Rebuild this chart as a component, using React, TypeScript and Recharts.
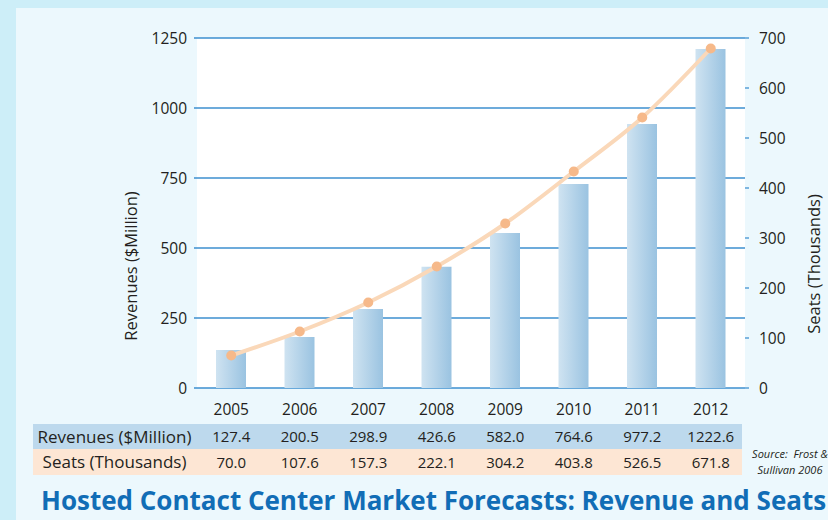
import React from "react";
import { ComposedChart, Bar, Line, XAxis, YAxis, CartesianGrid } from "recharts";

// Category labels
const years = ["2005", "2006", "2007", "2008", "2009", "2010", "2011", "2012"];
// Bar heights as drawn in the picture (Revenues, $Million)
const revenueBars = [136, 182, 282, 433, 554, 729, 943, 1211];
// Line points as drawn in the picture (Seats, Thousands)
const seatPoints = [65, 113, 171, 243, 329, 433, 541, 679];
// Values printed in the table below the chart
const revenueTable = ["127.4", "200.5", "298.9", "426.6", "582.0", "764.6", "977.2", "1222.6"];
const seatTable = ["70.0", "107.6", "157.3", "222.1", "304.2", "403.8", "526.5", "671.8"];
const leftTicks = [0, 250, 500, 750, 1000, 1250];
const rightTicks = [0, 100, 200, 300, 400, 500, 600, 700];

const data = years.map((y, i) => ({ year: y, revenue: revenueBars[i], seats: seatPoints[i] }));

const FONT = "'Open Sans', 'Noto Sans', sans-serif";
const TXT = "#231f20";

const TableTick = (props: any) => {
  const { x, y, payload } = props;
  const i = payload.index;
  return (
    <g fontFamily={FONT} textAnchor="middle">
      <text x={x} y={y + 27} fill={TXT} fontSize={15.5}>{payload.value}</text>
      <text x={x} y={y + 54} fill={TXT} fontSize={15}>{revenueTable[i]}</text>
      <text x={x} y={y + 80} fill={TXT} fontSize={15}>{seatTable[i]}</text>
    </g>
  );
};

export default function App() {
  return (
    <div style={{ position: "absolute", left: 0, top: 0, width: 828, height: 520, background: "#cdeef8", overflow: "hidden", fontFamily: FONT }}>
      <div style={{ position: "absolute", left: 16, top: 8, width: 812, height: 512, background: "#ecf8fd" }} />
      <div style={{ position: "absolute", left: 33, top: 424, width: 709, height: 25, background: "#bdd9ed" }} />
      <div style={{ position: "absolute", left: 33, top: 449, width: 709, height: 26, background: "#fde6d4" }} />
      <div style={{ position: "absolute", left: 30, top: 424, width: 169, height: 25, lineHeight: "25px", textAlign: "center", fontSize: 17, color: TXT, whiteSpace: "nowrap" }}>Revenues ($Million)</div>
      <div style={{ position: "absolute", left: 30, top: 449, width: 169, height: 26, lineHeight: "26px", textAlign: "center", fontSize: 17, color: TXT, whiteSpace: "nowrap" }}>Seats (Thousands)</div>
      <div style={{ position: "absolute", left: 131 - 100, top: 266 - 12, width: 200, height: 24, lineHeight: "24px", textAlign: "center", fontSize: 16.5, color: TXT, transform: "rotate(-90deg)", whiteSpace: "nowrap" }}>Revenues ($Million)</div>
      <div style={{ position: "absolute", left: 814 - 100, top: 264 - 12, width: 200, height: 24, lineHeight: "24px", textAlign: "center", fontSize: 16.5, color: TXT, transform: "rotate(-90deg)", whiteSpace: "nowrap" }}>Seats (Thousands)</div>
      <div style={{ position: "absolute", left: 725, top: 446, width: 130, textAlign: "center", fontSize: 11, fontStyle: "italic", color: TXT, lineHeight: "16px", whiteSpace: "nowrap" }}>
        Source:&nbsp; Frost &amp;<br />Sullivan 2006
      </div>
      <div style={{ position: "absolute", left: 328, top: 140, width: 94, height: 24, lineHeight: "24px", background: "#e4ecef", textAlign: "center", fontSize: 16, color: TXT }}>38% CAGR</div>
      <div style={{ position: "absolute", left: 41, top: 482, whiteSpace: "nowrap", fontSize: 26, fontWeight: 700, color: "#116db6", lineHeight: "36px" }}>
        Hosted Contact Center Market Forecasts: Revenue and Seats
      </div>
      <div style={{ position: "absolute", left: 0, top: 0 }}>
        <ComposedChart width={828} height={520} data={data} margin={{ top: 38, right: 0, bottom: 0, left: 0 }} barCategoryGap={0}>
          <defs>
            <linearGradient id="barGrad" x1="0" y1="0" x2="1" y2="0">
              <stop offset="0%" stopColor="#cfe3f1" />
              <stop offset="100%" stopColor="#9ac3e1" />
            </linearGradient>
          </defs>
          <CartesianGrid horizontal={true} vertical={false} fill="#ffffff" stroke="#3d8fcf" strokeWidth={1.5} strokeOpacity={1} yAxisId="left" />
          <XAxis dataKey="year" height={132} axisLine={false} tickLine={false} tickSize={0} tickMargin={0} tick={<TableTick />} interval={0} />
          <YAxis yAxisId="left" orientation="left" width={197} domain={[0, 1250]} ticks={leftTicks} axisLine={false}
            tickLine={{ stroke: "#3d8fcf", strokeWidth: 1.5 }} tickSize={3} tickMargin={7}
            tick={{ fill: TXT, fontSize: 15.5, fontFamily: FONT }} />
          <YAxis yAxisId="right" orientation="right" width={83} domain={[0, 700]} ticks={rightTicks} axisLine={false}
            tickLine={{ stroke: "#5aa0d6", strokeWidth: 1.5 }} tickSize={4} tickMargin={10}
            tick={{ fill: TXT, fontSize: 15.5, fontFamily: FONT, textAnchor: "start" }} />
          <Bar yAxisId="left" dataKey="revenue" barSize={30} fill="url(#barGrad)" isAnimationActive={false} />
          <Line yAxisId="right" dataKey="seats" type="monotone" stroke="#fad8b9" strokeWidth={4}
            dot={{ r: 5, fill: "#f6b98a", stroke: "none" }} activeDot={false} isAnimationActive={false} />
        </ComposedChart>
      </div>
    </div>
  );
}
